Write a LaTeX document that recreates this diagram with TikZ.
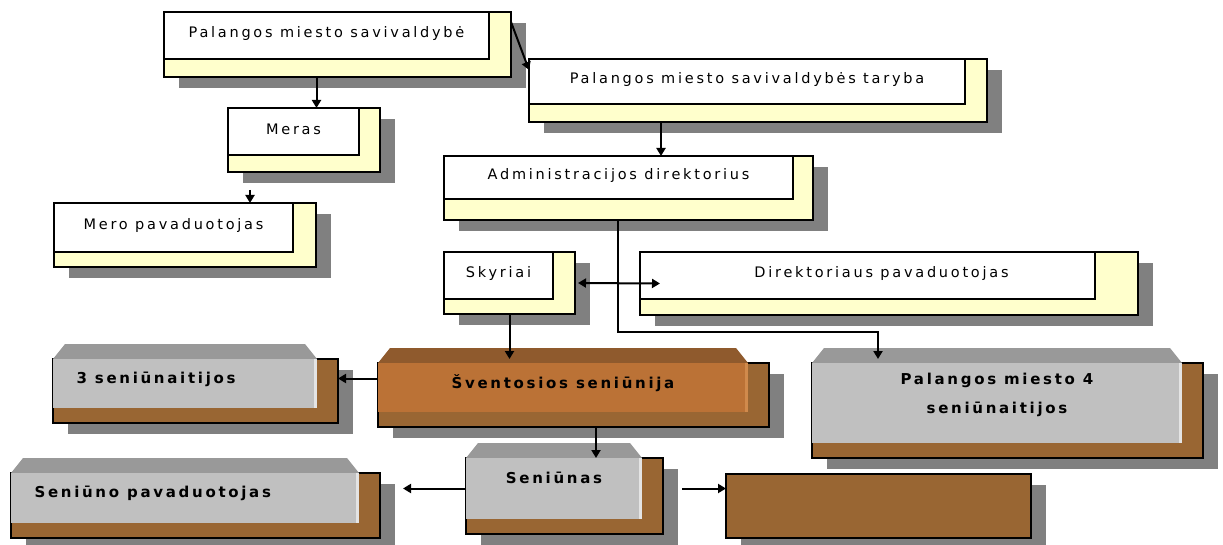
\documentclass[tikz,border=0pt]{standalone}
\usepackage{fontspec}
\usepackage{tikz}
\usetikzlibrary{shadows,arrows.meta}

\newfontfamily\thinfont[LetterSpace=19]{DejaVu Sans}
\newfontfamily\headfont[LetterSpace=18]{DejaVu Sans}

\definecolor{paleyellow}{HTML}{FFFFCC}
\definecolor{shadowgray}{HTML}{808080}
\definecolor{brownback}{HTML}{996633}
\definecolor{greyfront}{HTML}{C0C0C0}
\definecolor{greytop}{HTML}{999999}
\definecolor{greyedge}{HTML}{E4E4E4}
\definecolor{orgfront}{HTML}{BB7236}
\definecolor{orgtop}{HTML}{8F5A2D}
\definecolor{orgedge}{HTML}{D08A4C}

\tikzset{
  frame/.style={draw=black, line width=1.6pt, inner sep=0pt, outer sep=0pt, anchor=north west},
  castshadow/.style={drop shadow={shadow xshift=15pt, shadow yshift=-11pt, fill=shadowgray, opacity=1}},
  yframe/.style={frame, fill=paleyellow, castshadow},
  wbox/.style={frame, fill=white},
  ytext/.style={font=\thinfont\fontsize{14.5}{17}\selectfont, yshift=2pt},
  backbox/.style={frame, fill=brownback, castshadow},
  face/.style={inner sep=0pt, outer sep=0pt, anchor=north west},
  btext/.style={font=\headfont\bfseries\fontsize{15}{18}\selectfont, align=center},
  conn/.style={draw=black, line width=2pt, >={Triangle[length=8pt,width=9pt]}, ->},
}

% yellow box: name, x1, y1, x2, y2, inner x2, inner y2, text
\newcommand{\ybox}[8]{%
  \node[yframe, minimum width=#4-#2, minimum height=#5-#3] (#1) at (#2,#3) {};
  \node[wbox, minimum width=#6-#2, minimum height=#7-#3] (#1-w) at (#2,#3) {};
  \node[ytext] (#1-t) at (#1-w) {#8};
}
% raised box: [text opts], name, x1, y1, x2, y2, colour prefix, text
\newcommand{\bevel}[8][]{%
  \node[backbox, minimum width=#5-#3+21, minimum height=#6-#4+15] (#2-b) at (#3,#4) {};
  \fill[#7top] (#3,#4) -- (#3+12,#4-15) -- (#5-12,#4-15) -- (#5,#4) -- cycle;
  \node[face, fill=#7front, minimum width=#5-#3, minimum height=#6-#4] (#2) at (#3,#4) {};
  \fill[#7edge] (#5-3,#4) rectangle (#5,#6);
  \node[btext, at={([yshift=-20pt]#2.north)}, #1] (#2-t) {#8};
}

\begin{document}
\begin{tikzpicture}[x=1pt, y=-1pt]
  \useasboundingbox (0,0) rectangle (1223,545);

  \ybox{sav}{164}{12}{511}{77}{489}{59}{Palangos miesto savivaldybė}
  \ybox{tar}{529}{59}{987}{122}{965}{104}{Palangos miesto savivaldybės taryba}
  \ybox{mer}{228}{108}{380}{172}{359}{155}{Meras}
  \ybox{merp}{54}{203}{316}{267}{293}{252}{Mero pavaduotojas}
  \ybox{adm}{444}{156}{813}{220}{793}{199}{Administracijos direktorius}
  \ybox{sky}{444}{252}{575}{314}{553}{299}{Skyriai}
  \ybox{dirp}{640}{252}{1138}{315}{1095}{299}{\hspace*{28pt}Direktoriaus pavaduotojas}

  \bevel[anchor=west, at={([xshift=20pt,yshift=-20pt]tri.north west)}]{tri}{53}{359}{317}{408}{grey}{3 seniūnaitijos}
  \bevel{sve}{378}{363}{748}{412}{org}{Šventosios seniūnija}
  \bevel[at={([yshift=-32pt]pal4.north)}]{pal4}{812}{363}{1182}{443}{grey}{Palangos miesto 4\\[11pt]seniūnaitijos}
  \bevel[anchor=west, at={([xshift=20pt,yshift=-20pt]senp.north west)}]{senp}{11}{473}{359}{523}{grey}{Seniūno pavaduotojas}
  \bevel{sen}{466}{458}{642}{519}{grey}{Seniūnas}
  \node[backbox, minimum width=305, minimum height=64] (emp) at (726,474) {};

  \draw[conn] ([yshift=-10pt]sav.north east) -- ([yshift=-11pt]tar.north west);
  \draw[conn] ([xshift=-21pt]sav.south) -- ([xshift=-21pt]sav.south |- mer.north);
  \draw[conn] ([xshift=22pt,yshift=-18pt]mer.south west) -- ([xshift=22pt]mer.south west |- merp.north);
  \draw[conn] ([xshift=-97pt]tar.south) -- ([xshift=-97pt]tar.south |- adm.north);
  \draw[conn, shorten >=4pt] ([xshift=-11pt]adm.south) -- ++(0,112) -| ([xshift=-119pt]pal4.north);
  \draw[conn, <->] ([xshift=3pt]sky.east) -- ([xshift=20pt]dirp.west);
  \draw[conn, shorten >=4pt] (sky.south) -- (sky.south |- sve.north);
  \draw[conn] ([yshift=9pt]sve.west) -- ([yshift=9pt]sve.west -| tri-b.east);
  \draw[conn] ([xshift=42pt]sen.north |- sve-b.south) -- ([xshift=42pt]sen.north);
  \draw[conn, shorten >=23pt] (sen.west) -- (sen.west -| senp-b.east);
  \draw[conn, shorten <=19pt] (sen.west -| sen-b.east) -- (sen.west -| emp.west);
\end{tikzpicture}
\end{document}
